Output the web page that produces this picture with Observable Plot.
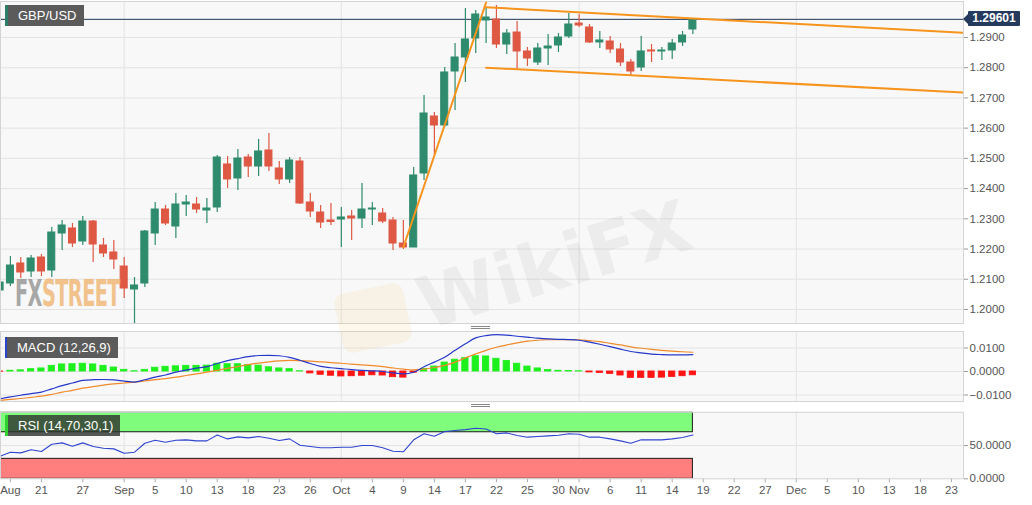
<!DOCTYPE html>
<html><head><meta charset="utf-8">
<script src="https://cdn.jsdelivr.net/npm/d3@7"></script>
<script src="https://cdn.jsdelivr.net/npm/@observablehq/plot@0.6"></script>
<style>
body{margin:0;background:#fff;font-family:"Liberation Sans",Arial,sans-serif;}
#wrap{position:relative;width:1032px;height:505px;overflow:hidden;background:#fff;}
.panel{position:absolute;left:0;}
.lbl{position:absolute;color:#fff;font-size:13px;line-height:21px;height:21px;box-sizing:border-box;padding-left:10px;white-space:nowrap;}
.grip{position:absolute;left:471px;width:19px;height:1px;border-top:1px solid #888;border-bottom:1px solid #888;}
</style></head><body><div id="wrap"></div>
<script>
// ---------- data ----------
const symbol = "GBP/USD";
const dates = [
"2019-08-15","2019-08-16","2019-08-19","2019-08-20","2019-08-21","2019-08-22","2019-08-23","2019-08-26","2019-08-27","2019-08-28","2019-08-29","2019-08-30",
"2019-09-02","2019-09-03","2019-09-04","2019-09-05","2019-09-06","2019-09-09","2019-09-10","2019-09-11","2019-09-12","2019-09-13","2019-09-16","2019-09-17","2019-09-18","2019-09-19","2019-09-20","2019-09-23","2019-09-24","2019-09-25","2019-09-26","2019-09-27","2019-09-30",
"2019-10-01","2019-10-02","2019-10-03","2019-10-04","2019-10-07","2019-10-08","2019-10-09","2019-10-10","2019-10-11","2019-10-14","2019-10-15","2019-10-16","2019-10-17","2019-10-18","2019-10-21","2019-10-22","2019-10-23","2019-10-24","2019-10-25","2019-10-28","2019-10-29","2019-10-30","2019-10-31",
"2019-11-01","2019-11-04","2019-11-05","2019-11-06","2019-11-07","2019-11-08","2019-11-11","2019-11-12","2019-11-13","2019-11-14","2019-11-15","2019-11-18"];
const open = [
1.20628,1.20860,1.21522,1.21257,1.21720,1.21290,1.22514,1.22680,1.22250,1.22911,
1.22117,1.21886,1.21422,1.20661,1.20860,1.22514,1.23308,1.22746,1.23474,1.23474,
1.23275,1.23375,1.24798,1.24334,1.25029,1.24731,1.25261,1.24665,1.24301,1.24897,
1.23540,1.23209,1.22944,1.22977,1.23077,1.23010,1.23308,1.23176,1.22944,1.22183,
1.22051,1.24500,1.26386,1.26088,1.27875,1.28338,1.28967,1.29563,1.29596,1.28768,
1.29165,1.28537,1.28173,1.28636,1.28735,1.29033,1.29463,1.29331,1.28835,1.28868,
1.28603,1.28173,1.28007,1.28570,1.28537,1.28570,1.28835,1.29265];
const high = [
1.21025,1.21753,1.21720,1.21786,1.21819,1.22713,1.22944,1.22845,1.23077,1.22944,
1.22349,1.22283,1.21720,1.21058,1.22614,1.23540,1.23441,1.23838,1.23772,1.23706,
1.23673,1.25095,1.25062,1.25294,1.25128,1.25625,1.25823,1.24897,1.25029,1.25029,
1.23838,1.23441,1.23507,1.23375,1.23275,1.24169,1.23540,1.23341,1.23044,1.22944,
1.24698,1.27081,1.26518,1.28007,1.28801,1.29960,1.29893,1.29993,1.30059,1.29265,
1.29529,1.28669,1.28801,1.29099,1.29132,1.29794,1.29761,1.29430,1.29199,1.29033,
1.28801,1.28272,1.29033,1.28768,1.28669,1.28934,1.29199,1.29629];
const low = [
1.20529,1.20761,1.21025,1.21058,1.21091,1.21058,1.21952,1.22051,1.22117,1.21555,
1.21720,1.21323,1.20363,1.19536,1.20728,1.22117,1.22779,1.22349,1.23077,1.23176,
1.22845,1.23209,1.24003,1.23937,1.24367,1.24400,1.24566,1.24136,1.24169,1.23474,
1.23044,1.22680,1.22779,1.22051,1.22283,1.22680,1.22779,1.22845,1.21952,1.21985,
1.22051,1.24268,1.25128,1.26022,1.26584,1.27511,1.28471,1.28801,1.28636,1.28437,
1.27908,1.28040,1.28073,1.28073,1.28504,1.28967,1.29331,1.28801,1.28636,1.28471,
1.28040,1.27709,1.27875,1.28173,1.28239,1.28272,1.28702,1.29099];
const close = [
1.20893,1.21455,1.21224,1.21687,1.21257,1.22547,1.22779,1.22183,1.22911,1.22150,
1.21853,1.21654,1.20694,1.20794,1.22580,1.23308,1.22845,1.23474,1.23540,1.23308,
1.23341,1.25029,1.24301,1.24996,1.24731,1.25228,1.24731,1.24301,1.24930,1.23507,
1.23242,1.22878,1.22895,1.23044,1.23010,1.23308,1.23341,1.22911,1.22183,1.22051,
1.24434,1.26485,1.26088,1.27842,1.28338,1.28934,1.29761,1.29662,1.28768,1.29132,
1.28537,1.28305,1.28636,1.28702,1.29000,1.29430,1.29397,1.28835,1.28901,1.28603,
1.28173,1.27875,1.28537,1.28537,1.28570,1.28801,1.29066,1.29601];

const macdLabel = "MACD (12,26,9)";
const macdLine = [
-0.0116,-0.0108,-0.0101,-0.0094,-0.0088,-0.0074,-0.0060,-0.0049,-0.0038,-0.0035,
-0.0034,-0.0036,-0.0041,-0.0045,-0.0035,-0.0024,-0.0015,-0.0003,0.0006,0.0014,
0.0021,0.0034,0.0046,0.0055,0.0063,0.0068,0.0069,0.0067,0.0060,0.0048,
0.0034,0.0022,0.0016,0.0012,0.0008,0.0005,0.0003,0.0000,-0.0006,-0.0010,
-0.0003,0.0020,0.0040,0.0061,0.0090,0.0118,0.0143,0.0153,0.0157,0.0155,
0.0150,0.0146,0.0142,0.0139,0.0137,0.0136,0.0133,0.0125,0.0116,0.0106,
0.0095,0.0085,0.0079,0.0074,0.0072,0.0071,0.0071,0.0072];
const signalLine = [
-0.0123,-0.0119,-0.0115,-0.0110,-0.0105,-0.0097,-0.0088,-0.0080,-0.0071,-0.0064,
-0.0058,-0.0053,-0.0049,-0.0045,-0.0040,-0.0035,-0.0030,-0.0024,-0.0017,-0.0010,
-0.0003,0.0005,0.0013,0.0021,0.0029,0.0036,0.0041,0.0045,0.0047,0.0046,
0.0044,0.0041,0.0038,0.0035,0.0031,0.0028,0.0025,0.0021,0.0015,0.0010,
0.0007,0.0010,0.0017,0.0026,0.0040,0.0058,0.0075,0.0090,0.0103,0.0113,
0.0122,0.0129,0.0133,0.0135,0.0136,0.0136,0.0135,0.0131,0.0127,0.0120,
0.0113,0.0105,0.0099,0.0094,0.0090,0.0087,0.0084,0.0082];
const macdHist = [
-0.0001,0.0003,0.0005,0.0010,0.0013,0.0024,0.0030,0.0031,0.0033,0.0030,
0.0024,0.0017,0.0007,0.0001,0.0007,0.0016,0.0020,0.0022,0.0024,0.0024,
0.0025,0.0033,0.0031,0.0031,0.0028,0.0025,0.0018,0.0013,0.0010,0.0001,
-0.0008,-0.0014,-0.0018,-0.0021,-0.0020,-0.0018,-0.0016,-0.0017,-0.0024,-0.0026,
-0.0005,0.0011,0.0021,0.0038,0.0050,0.0057,0.0065,0.0064,0.0054,0.0045,
0.0033,0.0021,0.0013,0.0006,0.0003,0.0002,0.0001,-0.0004,-0.0006,-0.0010,
-0.0017,-0.0027,-0.0027,-0.0027,-0.0026,-0.0023,-0.0020,-0.0016];

const rsiLabel = "RSI (14,70,30,1)";
const rsiUpper = 70, rsiLower = 30;
const rsi = [
34,40,39,43.6,41,52,54,49,54,48.6,
46,45,38.5,40,53.5,58,55,58,58.6,57,
57,66,60,63,61.6,63.6,61,57.6,60,50.5,
48.6,46.6,46.6,47.5,47.5,50,50,46.6,41.5,40.6,
58.6,67.7,64,71,72.6,74,76,75,67.7,69,
65,62.6,63.6,64.6,65.6,67.7,67,62.6,62.6,60,
57,53.5,58.6,58.6,58.6,60,62,66];

// trend lines (drawn on the chart)
const trendStartDates  = ["2019-10-09","2019-10-21","2019-10-21"];
const trendStartPrices = [1.2206, 1.3000, 1.2800];
const trendEndDates    = ["2019-10-22","2019-12-25","2019-12-25"];
const trendEndPrices   = [1.3117, 1.2914, 1.2716];

// axes
const priceTicks = [1.20,1.21,1.22,1.23,1.24,1.25,1.26,1.27,1.28,1.29];
const macdTicks = [-0.01, 0, 0.01];
const rsiTicks = [0, 50];
const xTickDates = ["2019-08-16","2019-08-21","2019-08-27","2019-09-02","2019-09-05","2019-09-10","2019-09-13","2019-09-18","2019-09-23","2019-09-26",
"2019-10-01","2019-10-04","2019-10-09","2019-10-14","2019-10-17","2019-10-22","2019-10-25","2019-10-30","2019-11-01","2019-11-06","2019-11-11","2019-11-14",
"2019-11-19","2019-11-22","2019-11-27","2019-12-02","2019-12-05","2019-12-10","2019-12-13","2019-12-18","2019-12-23"];
const xTickLabels = ["Aug","21","27","Sep","5","10","13","18","23","26","Oct","4","9","14","17","22","25","30","Nov","6","11","14","19","22","27","Dec","5","10","13","18","23"];
const monthStarts = ["2019-09-02","2019-10-01","2019-11-01","2019-12-02"];

// ---------- helpers ----------
function tdIndex(s){ // trading-day (weekday) index from first date
  const d0 = new Date(dates[0]+"T00:00:00Z"), d = new Date(s+"T00:00:00Z");
  let n = 0;
  for (let t = new Date(d0); t < d; t.setUTCDate(t.getUTCDate()+1)) { const w = t.getUTCDay(); if (w!==0 && w!==6) n++; }
  return n;
}
const GREEN = "#2e8b6d", RED = "#de5844";
const candles = dates.map((d,i)=>({i, o:open[i], h:high[i], l:low[i], c:close[i], col: close[i]>=open[i]?GREEN:RED}));
const lastIdx = candles.length-1;
const lastClose = close[lastIdx];
const trends = [];
trendStartDates.forEach((d,k)=>{
  trends.push({k, x:tdIndex(d), y:trendStartPrices[k]});
  trends.push({k, x:tdIndex(trendEndDates[k]), y:trendEndPrices[k]});
});
const gridX = monthStarts.map(tdIndex);
const tickIdx = xTickDates.map(tdIndex);
const labelOf = new Map(tickIdx.map((v,i)=>[v, xTickLabels[i]]));

const W = 1032, MR = 69;
const xDomain = [0.04, 93.17];
const baseStyle = {background:"transparent", color:"#555", fontFamily:"'Liberation Sans', Arial, sans-serif", fontSize:"11.5px", overflow:"visible"};
const wrap = document.getElementById("wrap");
function place(el, top){ el.classList.add("panel"); el.style.top = top+"px"; wrap.appendChild(el); return el; }

// ---------- main price panel ----------
const main = Plot.plot({
  width:W, height:324, marginLeft:0, marginRight:MR, marginTop:1, marginBottom:1,
  x:{domain:xDomain, axis:null},
  y:{domain:[1.19536, 1.30191], axis:null},
  color:{type:"identity"},
  style:baseStyle,
  marks:[
    Plot.frame({fill:"#f8f8f8", stroke:null}),
    Plot.ruleY(priceTicks, {stroke:"#e3e3e3"}),
    Plot.ruleX(gridX, {stroke:"#e3e3e3"}),
    Plot.ruleY([lastClose], {stroke:"#1f3556", strokeWidth:1}),
    Plot.ruleX(candles, {x:"i", y1:"l", y2:"h", stroke:"col", strokeWidth:1.2}),
    Plot.rect(candles, {x1:d=>d.i-0.34, x2:d=>d.i+0.34, y1:"o", y2:"c", fill:"col", stroke:"col", strokeWidth:1}),
    Plot.line(trends, {x:"x", y:"y", z:"k", stroke:"#f7941d", strokeWidth:2, clip:true}),
    Plot.axisY(priceTicks, {anchor:"right", tickSize:4, tickPadding:2, stroke:"#999", tickFormat:d3.format(".4f")}),
    Plot.frame({stroke:"#d4d4d4"})
  ]
});
place(main, 0);
const yMain = main.scale("y");

// ---------- MACD panel ----------
const macdRows = macdLine.map((v,i)=>({i, m:v, s:signalLine[i], h:macdHist[i], col: macdHist[i]>=0?"#1df01d":"#ff1414"}));
const macdPlot = Plot.plot({
  width:W, height:78, marginLeft:0, marginRight:MR, marginTop:5, marginBottom:3,
  x:{domain:xDomain, axis:null},
  y:{domain:[-0.01277, 0.01702], axis:null},
  color:{type:"identity"},
  style:baseStyle,
  marks:[
    Plot.frame({fill:"#f8f8f8", stroke:null}),
    Plot.ruleY(macdTicks, {stroke:"#e3e3e3"}),
    Plot.ruleX(gridX, {stroke:"#e3e3e3"}),
    Plot.rect(macdRows, {x1:d=>d.i-0.3, x2:d=>d.i+0.3, y1:()=>0, y2:"h", fill:"col", stroke:"col", strokeWidth:0.9, clip:true}),
    Plot.line(macdRows, {x:"i", y:"s", stroke:"#f08a2c", strokeWidth:1.2, curve:"monotone-x", clip:true}),
    Plot.line(macdRows, {x:"i", y:"m", stroke:"#2638c9", strokeWidth:1.2, curve:"monotone-x", clip:true}),
    Plot.axisY(macdTicks, {anchor:"right", tickSize:4, tickPadding:2, stroke:"#999", tickFormat:d3.format(".4f")}),
    Plot.frame({stroke:"#d4d4d4"})
  ]
});
place(macdPlot, 326);

// ---------- RSI panel + date axis ----------
const rsiRows = rsi.map((v,i)=>({i, v}));
const bands = [
  {x1:0, x2:lastIdx, y1:rsiUpper, y2:100, fill:"#80fc7c"},
  {x1:0, x2:lastIdx, y1:0, y2:rsiLower, fill:"#ff7f7f"}
];
const rsiPlot = Plot.plot({
  width:W, height:100, marginLeft:0, marginRight:MR, marginTop:6.8, marginBottom:26.7,
  x:{domain:xDomain, axis:null},
  y:{domain:[0,100], axis:null},
  color:{type:"identity"},
  style:baseStyle,
  marks:[
    Plot.frame({fill:"#f8f8f8", stroke:null}),
    Plot.ruleY([50], {stroke:"#e3e3e3"}),
    Plot.ruleX(gridX, {stroke:"#e3e3e3"}),
    Plot.rect(bands, {x1:"x1", x2:"x2", y1:"y1", y2:"y2", fill:"fill", stroke:"#1a1a1a", strokeWidth:1, clip:true}),
    Plot.line(rsiRows, {x:"i", y:"v", stroke:"#2f45cf", strokeWidth:1.1, clip:true}),
    Plot.axisY(rsiTicks, {anchor:"right", tickSize:4, tickPadding:2, stroke:"#999", tickFormat:d3.format(".4f")}),
    Plot.axisX(tickIdx, {anchor:"bottom", tickSize:4, tickPadding:3, stroke:"#aaa", tickFormat:d=>labelOf.get(d)}),
    Plot.frame({stroke:"#d4d4d4"})
  ]
});
place(rsiPlot, 405);

// ---------- overlays ----------
function addDiv(html, css){ const d=document.createElement("div"); d.innerHTML=html; Object.assign(d.style, css); wrap.appendChild(d); return d; }

// watermarks (behind labels)
addDiv('', {position:"absolute", left:"338px", top:"288px", width:"70px", height:"60px", background:"rgba(245,205,120,0.14)", borderRadius:"10px", transform:"rotate(-12deg)", pointerEvents:"none"});
addDiv('WikiFX', {position:"absolute", left:"432px", top:"262px", fontFamily:"'DejaVu Sans',sans-serif", fontWeight:"bold", fontSize:"72px",
   color:"rgba(110,100,95,0.075)", transform:"rotate(-17deg)", transformOrigin:"0 100%", pointerEvents:"none", whiteSpace:"nowrap"});
addDiv('<span style="color:#8c8c8c">FX</span><span style="color:#efb068">STREET</span>',
  {position:"absolute", left:"15px", top:"272px", fontFamily:"'DejaVu Sans Condensed','DejaVu Sans',sans-serif", fontWeight:"bold", fontSize:"37px",
   transform:"scaleX(0.58)", transformOrigin:"0 0", opacity:"0.75", pointerEvents:"none", whiteSpace:"nowrap", letterSpacing:"-1px"});

const lb1 = addDiv(symbol, {}); lb1.className="lbl"; Object.assign(lb1.style,{left:"5px",top:"5px",width:"79px",background:"#5b5b5b",borderLeft:"3px solid #2e7d68"});
const lb2 = addDiv(macdLabel, {}); lb2.className="lbl"; Object.assign(lb2.style,{left:"5px",top:"337px",width:"113px",background:"#5b5b5b",borderLeft:"2px solid #2a45c8"});
const lb3 = addDiv(rsiLabel, {}); lb3.className="lbl"; Object.assign(lb3.style,{left:"5px",top:"415px",width:"115px",background:"rgba(48,52,48,0.82)",borderLeft:"3px solid #30d030"});

// last price tag
const yTag = yMain.apply(lastClose);
addDiv(lastClose.toFixed(5), {position:"absolute", left:"968px", top:(yTag-7.5)+"px", width:"52px", height:"15px", lineHeight:"15px",
  background:"#243b5e", color:"#fff", fontWeight:"bold", fontSize:"12px", textAlign:"center", borderRadius:"1px"});
addDiv("", {position:"absolute", left:"963px", top:(yTag-5)+"px", width:"0", height:"0", borderTop:"5px solid transparent", borderBottom:"5px solid transparent", borderRight:"5px solid #243b5e"});

// panel grips
const g1 = addDiv("",{}); g1.className="grip"; g1.style.top="326px";
const g2 = addDiv("",{}); g2.className="grip"; g2.style.top="404px";
</script></body></html>
